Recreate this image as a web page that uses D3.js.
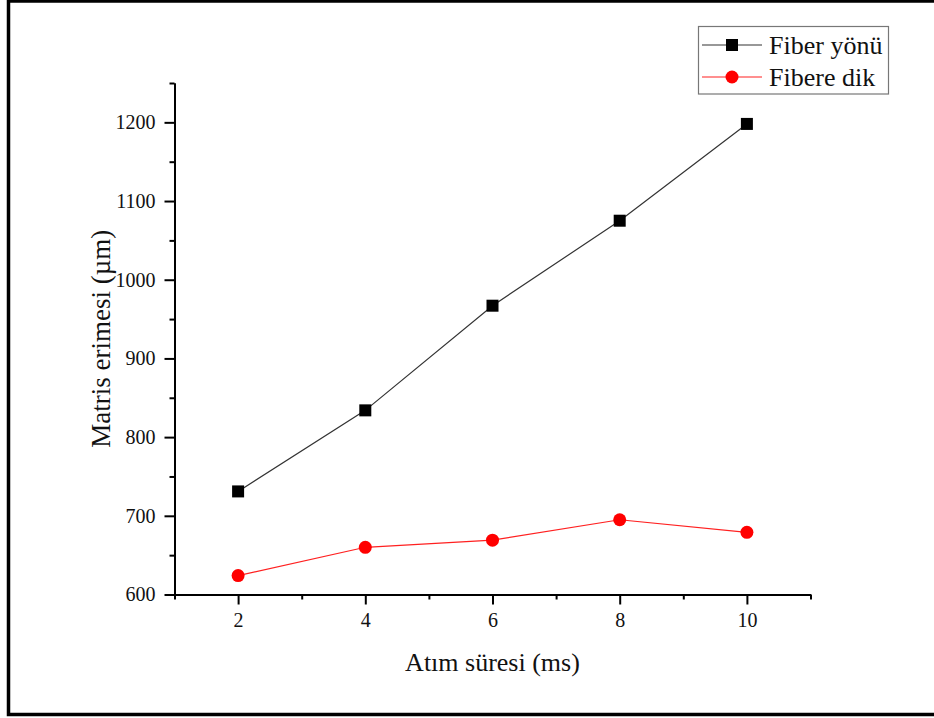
<!DOCTYPE html>
<html>
    <head>
        <meta charset="utf-8">
        <title>Matris erimesi</title>
        <script src="https://d3js.org/d3.v7.min.js"></script>
        <style>
            body { margin: 0; background: #fff; }
            svg text { font-family: "Liberation Serif", "Times New Roman", serif; fill: #111; }
        </style>
    </head>
    <body>
        <svg width="934" height="718" id="chart"></svg>
        <script>
        // data
        var atimSuresi = [2, 4, 6, 8, 10];
        var fiberYonu = [731, 834, 967, 1075, 1198];
        var fibereDik = [624, 660, 669, 695, 679];
        var seriesNames = ["Fiber yönü", "Fibere dik"];
        var xTicks = [2, 4, 6, 8, 10];
        var xMinor = [1, 3, 5, 7, 9, 11];
        var yTicks = [600, 700, 800, 900, 1000, 1100, 1200];
        var yMinor = [650, 750, 850, 950, 1050, 1150, 1250];

        var svg = d3.select("#chart");

        // outer frame
        svg.append("rect")
        .attr("x", 8.5)
        .attr("y", 1)
        .attr("width", 940)
        .attr("height", 713.5)
        .attr("fill", "none")
        .attr("stroke", "#000")
        .attr("stroke-width", 3.5);

        var x = d3.scaleLinear().domain([1, 11]).range([174.5, 810.5]);
        var y = d3.scaleLinear().domain([600, 1250]).range([594.5, 83]);

        // x axis (minor ticks in their own group, else the join drops them)
        svg.append("g")
        .attr("transform", "translate(0," + y(600) + ")")
        .call(d3.axisBottom(x).tickValues(xMinor).tickSize(5).tickSizeOuter(0).tickFormat(""));
        svg.append("g")
        .attr("transform", "translate(0," + y(600) + ")")
        .call(d3.axisBottom(x).tickValues(xTicks).tickSize(10).tickSizeOuter(0).tickPadding(8).tickFormat(d3.format("d")));

        // y axis
        svg.append("g")
        .attr("transform", "translate(" + x(1) + ",0)")
        .call(d3.axisLeft(y).tickValues(yMinor).tickSize(5).tickSizeOuter(0).tickFormat(""));
        svg.append("g")
        .attr("transform", "translate(" + x(1) + ",0)")
        .call(d3.axisLeft(y).tickValues(yTicks).tickSize(10).tickSizeOuter(0).tickPadding(9).tickFormat(d3.format("d")));

        svg.selectAll(".domain")
        .attr("stroke", "#000")
        .attr("stroke-width", 2);
        svg.selectAll(".tick line")
        .attr("stroke", "#000")
        .attr("stroke-width", 2);
        svg.selectAll(".tick text")
        .style("font-size", "20px")
        .style("font-family", "'Liberation Serif', serif")
        .attr("fill", "#111");

        // axis titles
        svg.append("text")
        .attr("x", (x(1) + x(11)) / 2)
        .attr("y", 671)
        .attr("text-anchor", "middle")
        .style("font-size", "26px")
        .text("Atım süresi (ms)");

        svg.append("text")
        .attr("transform", "translate(110," + ((y(600) + y(1250)) / 2) + ") rotate(-90)")
        .attr("text-anchor", "middle")
        .style("font-size", "27px")
        .text("Matris erimesi (µm)");

        var line = d3.line()
        .x(function(d, i){ return x(atimSuresi[i]); })
        .y(function(d){ return y(d); });

        // Fiber yönü
        svg.append("path")
        .datum(fiberYonu)
        .attr("d", line)
        .attr("fill", "none")
        .attr("stroke", "#333")
        .attr("stroke-width", 1.2);

        svg.selectAll(".sq")
        .data(fiberYonu)
        .enter()
        .append("rect")
        .attr("class", "sq")
        .attr("x", function(d, i){ return x(atimSuresi[i]) - 6; })
        .attr("y", function(d){ return y(d) - 6; })
        .attr("width", 12)
        .attr("height", 12)
        .attr("fill", "#000");

        // Fibere dik
        svg.append("path")
        .datum(fibereDik)
        .attr("d", line)
        .attr("fill", "none")
        .attr("stroke", "#ff2020")
        .attr("stroke-width", 1.2);

        svg.selectAll(".dot")
        .data(fibereDik)
        .enter()
        .append("circle")
        .attr("class", "dot")
        .attr("cx", function(d, i){ return x(atimSuresi[i]); })
        .attr("cy", function(d){ return y(d); })
        .attr("r", 6.5)
        .attr("fill", "#ff0000");

        // legend
        var lg = svg.append("g");
        lg.append("rect")
        .attr("x", 698.5)
        .attr("y", 26.5)
        .attr("width", 190)
        .attr("height", 67.5)
        .attr("fill", "#fff")
        .attr("stroke", "#777")
        .attr("stroke-width", 1.2);

        var rows = [
            { name: seriesNames[0], color: "#333", mark: "square", cy: 45 },
            { name: seriesNames[1], color: "#ff2020", mark: "circle", cy: 77 }
        ];
        rows.forEach(function(r){
            lg.append("line")
            .attr("x1", 702).attr("x2", 762)
            .attr("y1", r.cy).attr("y2", r.cy)
            .attr("stroke", r.color)
            .attr("stroke-width", 1.2);
            if(r.mark == "square"){
                lg.append("rect")
                .attr("x", 726).attr("y", r.cy - 6)
                .attr("width", 12).attr("height", 12)
                .attr("fill", "#000");
            }else{
                lg.append("circle")
                .attr("cx", 732).attr("cy", r.cy)
                .attr("r", 6.5)
                .attr("fill", "#ff0000");
            }
            lg.append("text")
            .attr("x", 769)
            .attr("y", r.cy + 8.5)
            .style("font-size", "26px")
            .text(r.name);
        });
        </script>
    </body>
</html>
